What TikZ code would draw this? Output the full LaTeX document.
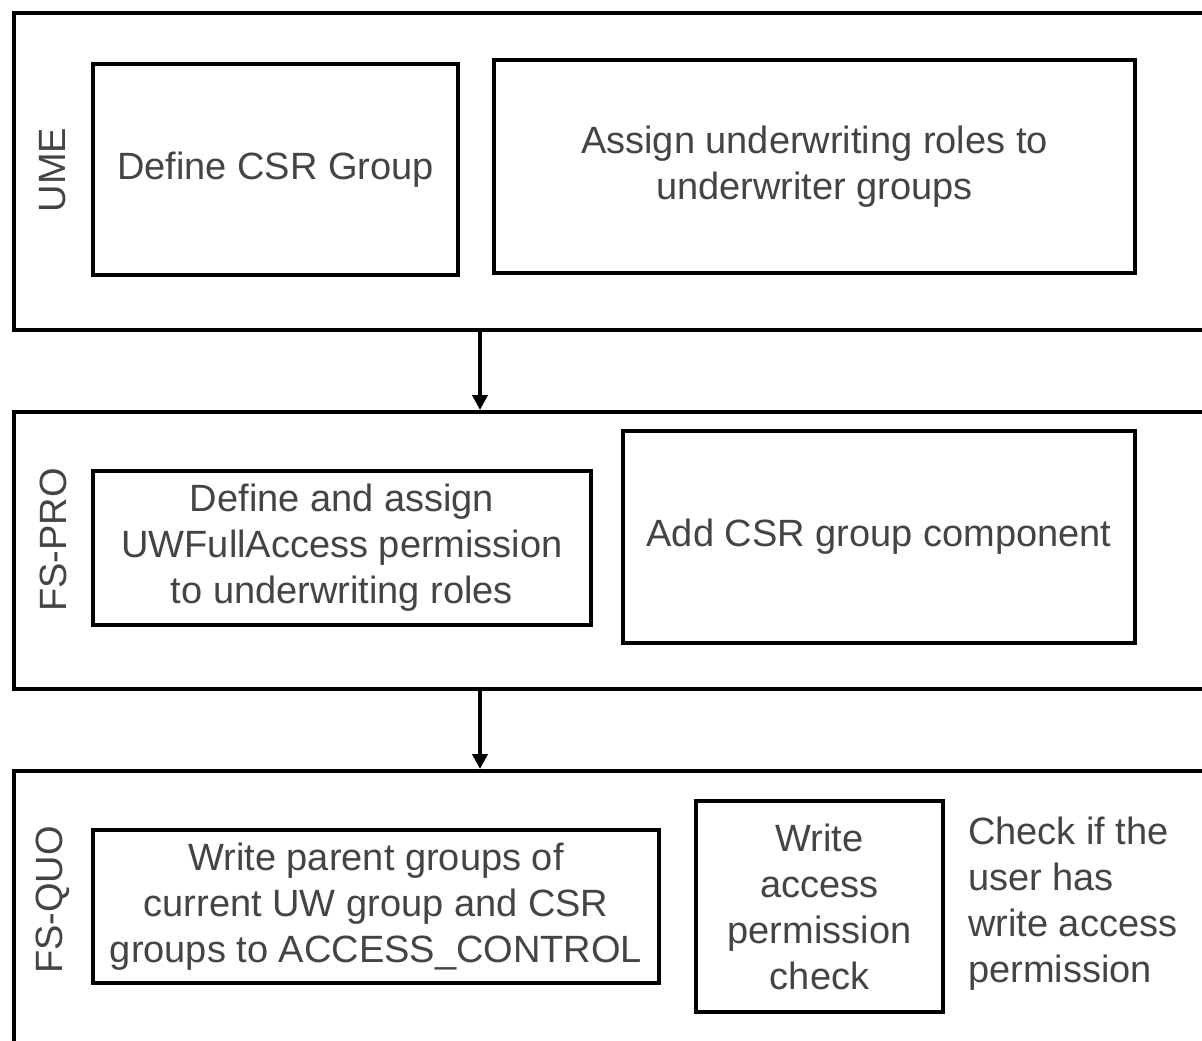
\documentclass[tikz,border=0pt]{standalone}
\usepackage{fontspec}
\setmainfont{Liberation Sans}
\usetikzlibrary{arrows.meta}
\definecolor{txt}{HTML}{444444}
\begin{document}
\begin{tikzpicture}[x=1pt,y=-1pt,
  lane/.style={draw=black,line width=4pt,anchor=north west,inner sep=0pt},
  stepbox/.style={draw=black,line width=4pt,inner sep=0pt,align=center,text=txt,
     font=\fontsize{38}{46}\selectfont},
  lanelabel/.style={rotate=90,text=txt,font=\fontsize{38}{46}\selectfont,inner sep=0pt},
  note/.style={text=txt,align=left,anchor=north west,inner sep=0pt,font=\fontsize{38}{46}\selectfont},
  arr/.style={line width=4pt,-{Triangle[length=15pt,width=15pt]}}]
\useasboundingbox (0,0) rectangle (1202,1041);
\clip (0,0) rectangle (1202,1041);
\fill[white] (0,0) rectangle (1202,1041);
% lanes
\node[lane,minimum width=1300pt,minimum height=317pt] (ume) at (11.5,11) {};
\node[lane,minimum width=1300pt,minimum height=277pt] (pro) at (11.5,410) {};
\node[lane,minimum width=1300pt,minimum height=400pt] (quo) at (11.5,769) {};
\node[lanelabel] (lume) at (53,170) {UME};
\node[lanelabel] (lpro) at (53,540) {FS-PRO};
\node[lanelabel] (lquo) at (53,900) {FS-QUO};
% UME boxes
\node[stepbox,minimum width=365pt,minimum height=211pt] (csr) at (275.5,169.5) {\raisebox{-3pt}{Define CSR Group}};
\node[stepbox,minimum width=641pt,minimum height=213pt] (assign) at (814.5,166.5) {Assign underwriting roles to\\underwriter groups};
% FS-PRO boxes
\node[stepbox,minimum width=498pt,minimum height=154pt] (uwfa) at (342,548) {Define and assign\\UWFullAccess permission\\to underwriting roles};
\node[stepbox,minimum width=512pt,minimum height=212pt] (comp) at (879,537) {Add CSR group component};
% FS-QUO boxes
\node[stepbox,minimum width=566pt,minimum height=153pt] (parent) at (376,906.5) {Write parent groups of\\current UW group and CSR\\groups to ACCESS\_CONTROL};
\node[stepbox,minimum width=247pt,minimum height=211pt] (wapc) at (819.5,906.5) {Write\\access\\permission\\check};
\node[note] (chk) at (968,817) {Check if the\\user has\\write access\\permission};
% connectors
\coordinate (ax) at (480,0);
\draw[arr] (ume.south -| ax) -- (pro.north -| ax);
\draw[arr] (pro.south -| ax) -- (quo.north -| ax);
\end{tikzpicture}
\end{document}
